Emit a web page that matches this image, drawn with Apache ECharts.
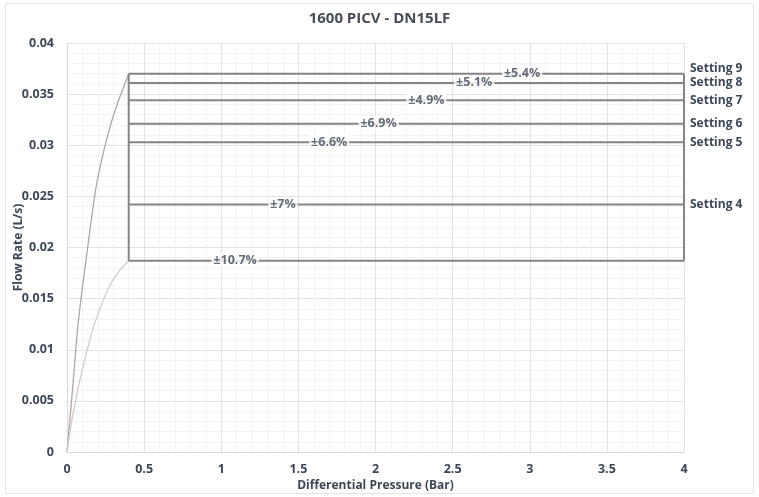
<!DOCTYPE html>
<html>
<head>
<meta charset="utf-8">
<script src="https://cdn.jsdelivr.net/npm/echarts@6/dist/echarts.min.js"></script>
<style>
  html, body { margin: 0; padding: 0; background: #fff; }
  #chart { width: 759px; height: 497px; }
</style>
</head>
<body>
<div id="chart"></div>
<script>
// Regulated flow per setting (L/s), from the lowest setting up to Setting 9
const settingFlows = [0.0187, 0.0242, 0.0303, 0.0321, 0.0344, 0.0361, 0.0370];
const settingNames = ['', 'Setting 4', 'Setting 5', 'Setting 6', 'Setting 7', 'Setting 8', 'Setting 9'];
const toleranceText = ['±10.7%', '±7%', '±6.6%', '±6.9%', '±4.9%', '±5.1%', '±5.4%'];
const tolerancePos = [1.09, 1.40, 1.70, 2.02, 2.33, 2.64, 2.95];

// Control range of differential pressure (Bar)
const dpStart = 0.4;
const dpEnd = 4;

// Start-up curves below the control range: [Bar, L/s]
const upperCurve = [[0, 0], [0.037, 0.0063], [0.073, 0.0127], [0.128, 0.0193], [0.182, 0.0253],
  [0.225, 0.0286], [0.279, 0.0318], [0.33, 0.0342], [0.365, 0.0356], [0.4, 0.0370]];
const lowerCurve = [[0, 0], [0.030, 0.0030], [0.073, 0.0063], [0.123, 0.0095], [0.182, 0.0127],
  [0.268, 0.0160], [0.333, 0.0176], [0.4, 0.0187]];

const xTicks = { min: 0, max: 4, interval: 0.5 };
const yTicks = { min: 0, max: 0.04, interval: 0.005 };

const textColor = '#3d4756';
const fontFamily = '"Open Sans", "Noto Sans", sans-serif';
const lineColor = '#858585';

const series = [];

// Flat regulated lines with the setting name at their right end
settingFlows.forEach((q, i) => {
  series.push({
    type: 'line',
    data: [[dpStart, q], [dpEnd, q]],
    symbol: 'none',
    silent: true,
    z: 3,
    lineStyle: { color: lineColor, width: 2 },
    endLabel: {
      show: settingNames[i] !== '',
      formatter: settingNames[i],
      color: textColor,
      fontFamily: fontFamily,
      fontWeight: 'bold',
      fontSize: 12,
      distance: 6,
      offset: i === settingFlows.length - 1 ? [0, -5] : [0, 0]
    }
  });
});

// Vertical edges of the control range
[dpStart, dpEnd].forEach(dp => {
  series.push({
    type: 'line',
    data: [[dp, settingFlows[0]], [dp, settingFlows[settingFlows.length - 1]]],
    symbol: 'none',
    silent: true,
    z: 3,
    lineStyle: { color: lineColor, width: 2 }
  });
});

// Start-up curves
series.push({
  type: 'line', data: upperCurve, smooth: 0.3, symbol: 'none', silent: true, z: 2,
  lineStyle: { color: '#b0a6a2', width: 1.3 }
});
series.push({
  type: 'line', data: lowerCurve, smooth: 0.3, symbol: 'none', silent: true, z: 2,
  lineStyle: { color: '#d3cbc7', width: 1.3 }
});

// Tolerance tags sitting on each line
series.push({
  type: 'scatter',
  data: settingFlows.map((q, i) => [tolerancePos[i], q]),
  symbolSize: 1,
  itemStyle: { color: 'rgba(0,0,0,0)' },
  silent: true,
  z: 5,
  label: {
    show: true,
    position: 'inside',
    formatter: p => toleranceText[p.dataIndex],
    color: textColor,
    fontFamily: fontFamily,
    fontWeight: 'bold',
    fontSize: 12.5,
    backgroundColor: '#ffffff',
    padding: [1, 2]
  }
});

const axisLabelStyle = { color: textColor, fontFamily: fontFamily, fontWeight: 'bold', fontSize: 12.5 };
const axisNameStyle = { color: textColor, fontFamily: fontFamily, fontWeight: 'bold', fontSize: 12 };

const chart = echarts.init(document.getElementById('chart'), null, { renderer: 'canvas' });
chart.setOption({
  animation: false,
  backgroundColor: '#ffffff',
  title: {
    text: '1600 PICV - DN15LF',
    left: 'center',
    top: 6,
    textStyle: { color: '#474d58', fontFamily: fontFamily, fontWeight: 'bold', fontSize: 15 }
  },
  graphic: [{
    type: 'rect',
    shape: { x: 5.5, y: 3.5, width: 748, height: 490 },
    style: { fill: 'none', stroke: '#e4e4e4', lineWidth: 1 },
    silent: true
  }],
  grid: { left: 67, right: 75, top: 43, bottom: 45, outerBoundsMode: 'none' },
  xAxis: {
    type: 'value',
    min: xTicks.min, max: xTicks.max, interval: xTicks.interval,
    name: 'Differential Pressure (Bar)',
    nameLocation: 'middle',
    nameGap: 28,
    nameMoveOverlap: false,
    nameTextStyle: axisNameStyle,
    axisLine: { show: true, onZero: false, lineStyle: { color: '#d9d9d9' } },
    axisTick: { show: false },
    axisLabel: Object.assign({ margin: 11 }, axisLabelStyle),
    splitLine: { show: true, lineStyle: { color: '#e2e2e2', width: 1 } },
    minorTick: { show: false, splitNumber: 5 },
    minorSplitLine: { show: true, lineStyle: { color: '#f3f3f3', width: 1 } }
  },
  yAxis: {
    type: 'value',
    min: yTicks.min, max: yTicks.max, interval: yTicks.interval,
    name: 'Flow Rate (L/s)',
    nameLocation: 'middle',
    nameGap: 42,
    nameMoveOverlap: false,
    nameTextStyle: axisNameStyle,
    axisLine: { show: true, lineStyle: { color: '#d9d9d9' } },
    axisTick: { show: false },
    axisLabel: Object.assign({ margin: 13 }, axisLabelStyle),
    splitLine: { show: true, lineStyle: { color: '#e2e2e2', width: 1 } },
    minorTick: { show: false, splitNumber: 5 },
    minorSplitLine: { show: true, lineStyle: { color: '#f3f3f3', width: 1 } }
  },
  series: series
});
</script>
</body>
</html>
